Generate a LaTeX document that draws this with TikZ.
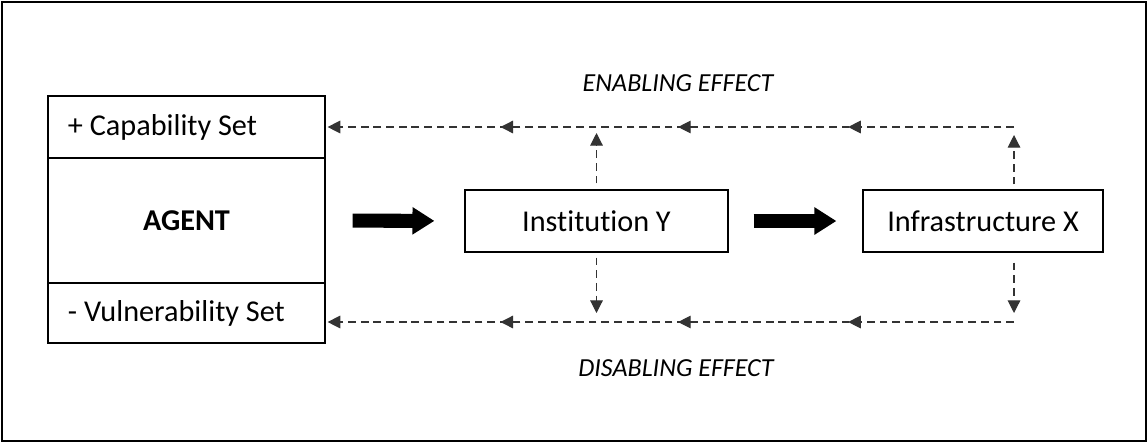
\documentclass[tikz,border=0pt]{standalone}
\usepackage{fontspec}
\setmainfont{Carlito}[Ligatures=NoCommon]
\usetikzlibrary{arrows.meta,decorations.markings}

\tikzset{
  box/.style={draw, line width=0.8pt, inner sep=0pt, minimum height=1.55cm,
    font=\fontsize{21.5}{25}\selectfont},
  setbox/.style={box, minimum width=6.925cm, text width=5.925cm, align=flush left, inner xsep=0.5cm},
  feedback/.style={draw=black!80, line width=0.8pt, dash pattern=on 5.5pt off 3.5pt},
  tip/.style={-{Triangle[length=9pt,width=9pt]}},
  midtips/.style={decoration={markings,
      mark=at position 0.241 with {\arrow{Triangle[length=9pt,width=9pt]}},
      mark=at position 0.488 with {\arrow{Triangle[length=9pt,width=9pt]}},
      mark=at position 0.746 with {\arrow{Triangle[length=9pt,width=9pt]}}},
    postaction={decorate}},
  bigarrow/.style={line width=10pt, -{Triangle[length=15.6pt,width=18.5pt]}},
  effect/.style={font=\fontsize{18.5}{22}\selectfont\itshape},
}

\begin{document}
\begin{tikzpicture}[x=0.025cm, y=-0.025cm]
\useasboundingbox (0,0) rectangle (1148,443);
\draw[line width=1.4pt] (2,2) rectangle (1146,441);

% agent with its two sets
\node[setbox, minimum height=1.55cm] (cap) at (186.5,127) {+ Capability Set};
\node[box, minimum width=6.925cm, minimum height=3.125cm, font=\fontsize{21.5}{25}\selectfont\bfseries] (agent) at (186.5,220.5) {AGENT};
\node[setbox, minimum height=1.5cm] (vul) at (186.5,313) {- Vulnerability Set};

\node[box, minimum width=6.575cm] (inst) at (596.5,221) {Institution Y};
\node[box, minimum width=6cm] (infra) at (983,221) {Infrastructure X};

\draw[bigarrow, shorten <=0.675cm, shorten >=0.75cm] (agent.east) -- (inst.west);
\draw[bigarrow, shorten <=0.625cm, shorten >=0.65cm] (inst.east) -- (infra.west);

% feedback loops
\coordinate (tr) at (1014,127);
\coordinate (br) at (1014,322);

\draw[feedback, tip, midtips, shorten >=0.05cm] (tr) -- (tr -| cap.east);
\draw[feedback, tip, midtips, shorten >=0.05cm] (br) -- (br -| vul.east);

\draw[feedback, tip, shorten <=0.15cm, shorten >=0.15cm] (inst.north) -- (inst.north |- tr);
\draw[feedback, tip, shorten <=0.125cm, shorten >=0.2cm] (tr |- infra.north) -- (tr);
\draw[feedback, tip, shorten <=0.125cm, shorten >=0.225cm] (inst.south) -- (inst.south |- br);
\draw[feedback, tip, shorten <=0.25cm, shorten >=0.225cm] (br |- infra.south) -- (br);

\node[effect] (enab) at (678,83) {ENABLING EFFECT};
\node[effect] (disab) at (676,368) {DISABLING EFFECT};
\end{tikzpicture}
\end{document}
